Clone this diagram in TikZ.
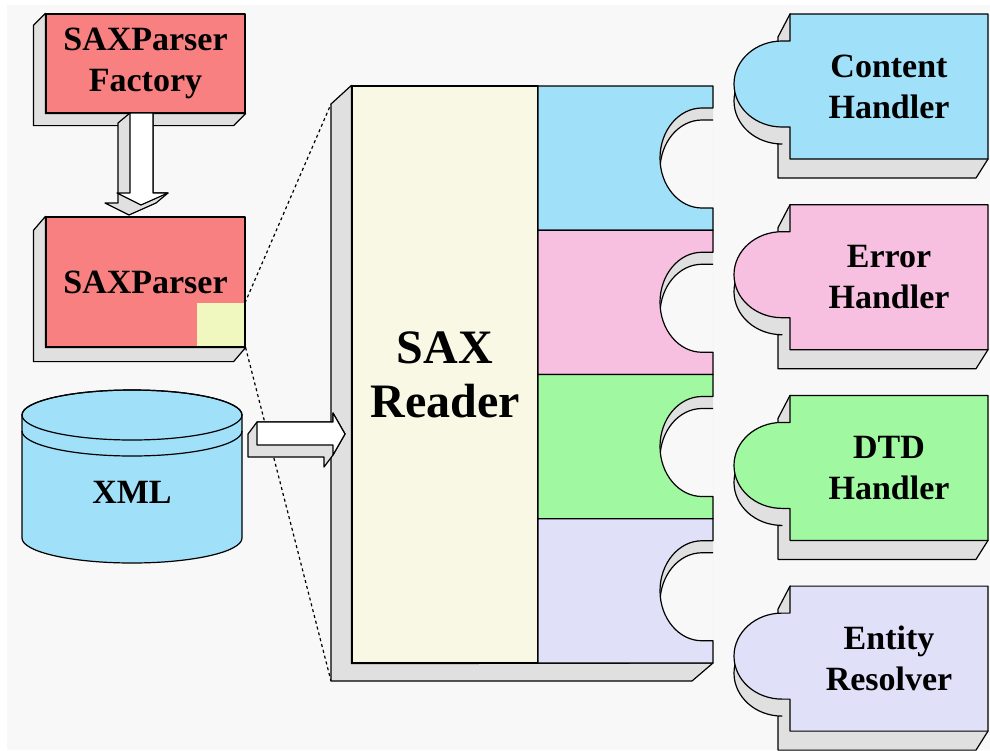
\documentclass[tikz,border=0pt]{standalone}
\usepackage{fontspec}
\setmainfont{Liberation Serif}
\definecolor{bgpaper}{HTML}{F8F8F8}
\definecolor{sidegray}{HTML}{E0E0E0}
\definecolor{salmon}{HTML}{F88080}
\definecolor{slotyellow}{HTML}{F0F8C0}
\definecolor{readeryellow}{HTML}{F8F8E4}
\definecolor{contentblue}{HTML}{A0E0F8}
\definecolor{errorpink}{HTML}{F8C0E0}
\definecolor{dtdgreen}{HTML}{A0F8A0}
\definecolor{entitylav}{HTML}{E0E0F8}
\begin{document}
\begin{tikzpicture}[x=1pt,y=-1pt,line width=1.2pt,line join=round,
        sideface/.style={fill=sidegray,draw=black},
        boxtext/.style={font=\bfseries\fontsize{34}{41}\selectfont,align=center},
        dotline/.style={draw=black,dash pattern=on 3pt off 3pt}]
        \useasboundingbox (0,0) rectangle (990,750);
        \fill[white] (0,0) rectangle (990,750);
        \fill[bgpaper] (7,5) rectangle (990,750);

        % back corners of the reader
        \coordinate (rtop) at (331,104);
        \coordinate (rbot) at (331,681);

        % factory and parser
        \node[draw,fill=salmon,minimum width=199pt,minimum height=99pt,boxtext] (factory) at (145.5,63.5) {SAXParser\\Factory};
        \filldraw[sideface] (factory.north west) -- ++(-12,12) -- ([shift={(-12,12)}]factory.south west) -- ([shift={(-12,12)}]factory.south east) -- (factory.south east) -- (factory.south west) -- cycle;

        \filldraw[sideface] (130,113) -- (118,123) -- (118,203) -- (105,203) -- (129,215) -- (156,203) -- (168,193) -- (153,193) -- (153,113) -- cycle;
        \filldraw[fill=white] (130,113) -- (153,113) -- (153,193) -- (168,193) -- (141,205) -- (117,193) -- (130,193) -- cycle;

        \node[draw,fill=salmon,minimum width=199pt,minimum height=130pt,boxtext] (parser) at (145.5,282) {SAXParser};
        \filldraw[sideface] (parser.north west) -- ++(-12,14) -- ([shift={(-12,14)}]parser.south west) -- ([shift={(-12,14)}]parser.south east) -- (parser.south east) -- (parser.south west) -- cycle;
        \node[fill=slotyellow,inner sep=0pt,minimum width=47pt,minimum height=43pt,anchor=south east] (slot) at ([shift={(-0.6,-0.6)}]parser.south east) {};

        \draw[dotline] (slot.north east) -- (rtop);
        \draw[dotline] (parser.south east) -- (rbot);

        % xml store
        \filldraw[fill=contentblue] (22,415) -- (22,538) arc[start angle=180,end angle=0,x radius=110,y radius=25] -- (242,415) arc[start angle=0,end angle=-180,x radius=110,y radius=25] -- cycle;
        \draw (132,415) ellipse[x radius=110,y radius=25];
        \draw (22,431) arc[start angle=180,end angle=0,x radius=110,y radius=25];
        \node[boxtext] (xml) at (132,492) {XML};

        % reader
        \node[draw,fill=readeryellow,minimum width=186pt,minimum height=577pt,font=\bfseries\fontsize{48}{54}\selectfont,align=center] (reader) at (445,374.5) {SAX\\Reader};
        \filldraw[sideface] (reader.north west) -- (rtop) -- (rbot) -- (692,681) -- (713,663) -- (reader.south west) -- cycle;

        \foreach \col [count=\i from 0] in {contentblue,errorpink,dtdgreen,entitylav} {
            \pgfmathsetmacro{\ytop}{86+144.25*\i}
            \pgfmathsetmacro{\ymid}{\ytop+72}
            \begin{scope}
                \clip (713,\ymid-50) -- (702,\ymid-50) arc[start angle=270,end angle=90,x radius=42,y radius=50] -- (713,\ymid+50) -- cycle;
                \fill[sidegray] (655,\ymid-52) rectangle (715,\ymid+52);
                \filldraw[fill=bgpaper] (730,\ymid-38) -- (702,\ymid-38) arc[start angle=270,end angle=90,x radius=42,y radius=50] -- (730,\ymid+62) -- cycle;
            \end{scope}
            \filldraw[fill=\col] (538,\ytop) -- (713,\ytop) -- (713,\ymid-50) -- (702,\ymid-50) arc[start angle=270,end angle=90,x radius=42,y radius=50] -- (713,\ymid+50) -- (713,\ytop+144.25) -- (538,\ytop+144.25) -- cycle;
        }

        \filldraw[sideface] (257,422) -- (248,434) -- (248,457) -- (324,457) -- (324,467) -- (333,455) -- (345,434) -- (333,413) -- (333,422) -- cycle;
        \filldraw[fill=white] (257,422) -- (333,422) -- (333,413) -- (345,434) -- (333,455) -- (333,445) -- (257,445) -- cycle;

        % handlers
        \foreach \col/\txt [count=\i from 0] in {contentblue/{Content\\Handler},errorpink/{Error\\Handler},dtdgreen/{DTD\\Handler},entitylav/{Entity\\Resolver}} {
            \pgfmathsetmacro{\ytop}{14+190.7*\i}
            \filldraw[sideface] (790,\ytop) -- (778,\ytop+23) -- (778,\ytop+44) -- (782,\ytop+44) arc[start angle=270,end angle=90,x radius=48,y radius=43] -- (778,\ytop+130) -- (778,\ytop+164) -- (976,\ytop+164) -- (988,\ytop+145) -- cycle;
            \filldraw[fill=\col] (790,\ytop) -- (988,\ytop) -- (988,\ytop+145) -- (790,\ytop+145) -- (790,\ytop+113) -- (782,\ytop+113) arc[start angle=90,end angle=270,x radius=48,y radius=43] -- (790,\ytop+27) -- cycle;
            \node[boxtext] (handler\i) at (889,\ytop+72.5) {\txt};
        }
    \end{tikzpicture}
\end{document}
